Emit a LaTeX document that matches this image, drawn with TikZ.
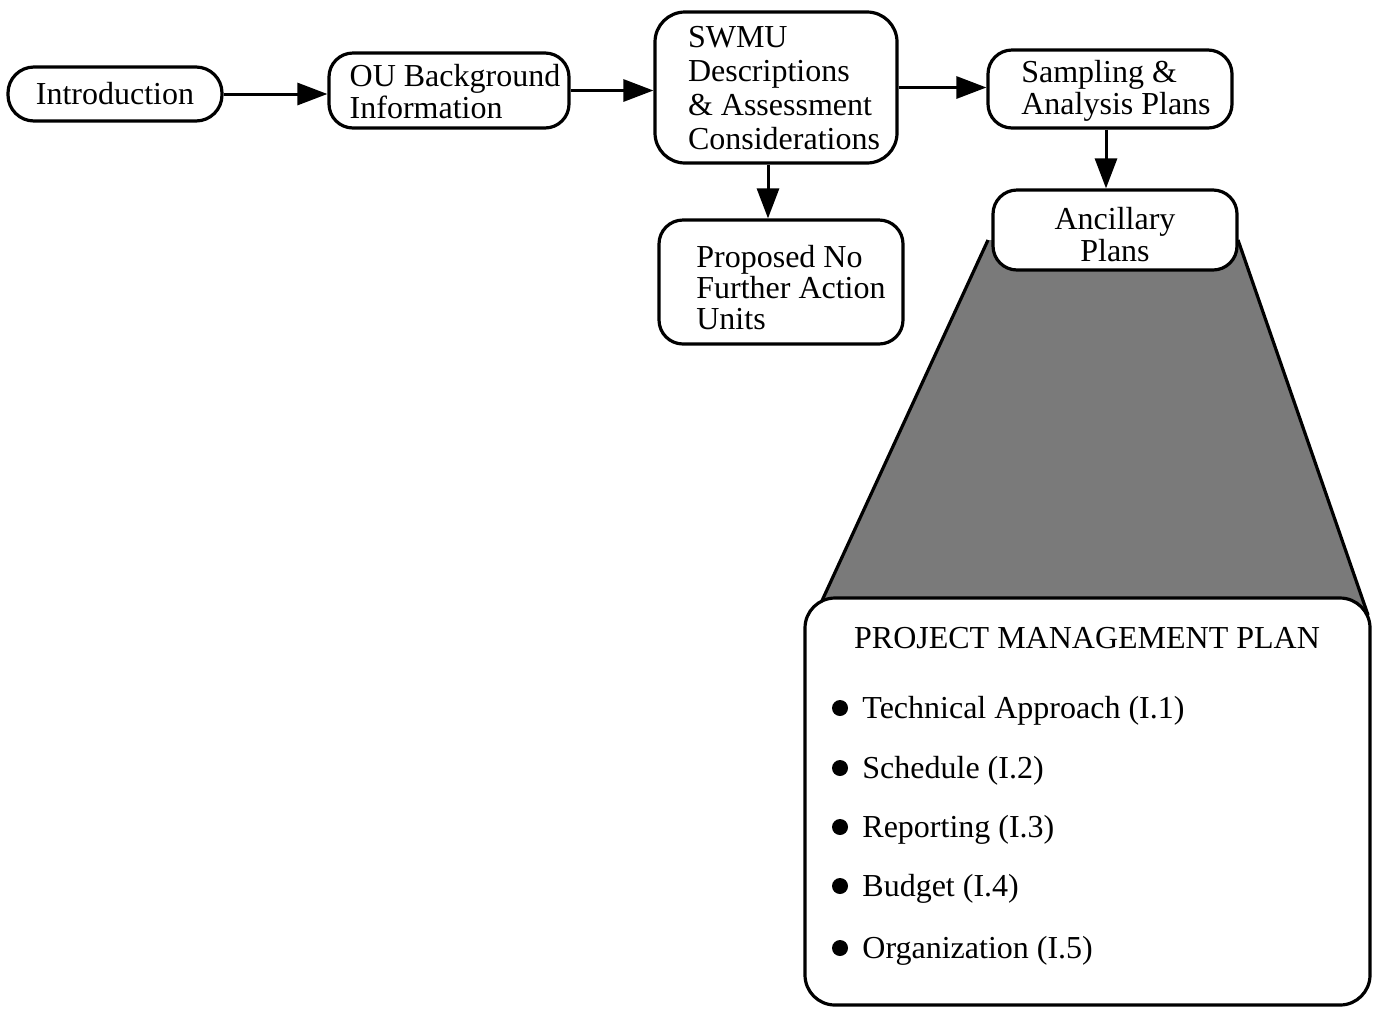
\documentclass[tikz,border=0pt]{standalone}
\usepackage{fontspec}
\setmainfont{Liberation Serif}
\usetikzlibrary{arrows.meta,calc}
% left-aligned block with extra room on its left, lowered by #2 inside its own extent
\newcommand{\padblock}[3]{\hspace*{#1}\raisebox{-#2}[\height][\depth]{\begin{tabular}{@{}l@{}}#3\end{tabular}}}
\begin{document}
\begin{tikzpicture}[x=0.5pt,y=-0.5pt,
  box/.style={draw, line width=1.6pt, rounded corners=12pt, fill=white,
    font=\fontsize{16}{16}\selectfont, inner sep=0pt},
  flow/.style={line width=1.5pt, -{Triangle[length=15pt,width=11pt]}},
  item/.style={anchor=base west, inner sep=0pt, font=\fontsize{16}{16}\selectfont},
  dot/.style={fill=black},
]
\useasboundingbox (0,0) rectangle (1380,1008);

% shaded funnel between the ancillary plans and the management plan
\coordinate (ftl) at (988,240);
\coordinate (ftr) at (1238,240);
\coordinate (fbr) at (1368,615);
\coordinate (fbl) at (820,605);
\fill[black!52] (ftl) -- (ftr) -- (fbr) -- (fbl) -- cycle;
\draw[line width=1.6pt] (ftl) -- (fbl) (ftr) -- (fbr);

% flow boxes
\node[box, minimum width=107pt, minimum height=27pt, rounded corners=13pt]
  (intro) at (115,94) {Introduction};
\node[box, minimum width=120pt, minimum height=37.5pt]
  (ou) at (449,90.5) {\padblock{6pt}{3pt}{OU Background\\Information}};
\node[box, minimum width=121pt, minimum height=75.5pt,
  font=\fontsize{16}{17}\selectfont, rounded corners=15pt]
  (swmu) at (776,87.5) {\padblock{8pt}{2.2pt}{SWMU\\Descriptions\\\& Assessment\\Considerations}};
\node[box, minimum width=122pt, minimum height=39pt]
  (samp) at (1110,89) {\padblock{6pt}{1.5pt}{Sampling \&\\Analysis Plans}};
\node[box, minimum width=122pt, minimum height=62pt,
  font=\fontsize{16}{15.5}\selectfont]
  (prop) at (781,282) {\padblock{10pt}{5pt}{Proposed No\\Further Action\\Units}};
\node[box, minimum width=122pt, minimum height=40pt]
  (anc) at (1115,230) {\raisebox{-4.5pt}[\height][\depth]{\begin{tabular}{@{}c@{}}Ancillary\\Plans\end{tabular}}};
\node[box, minimum width=282.5pt, minimum height=203.5pt, rounded corners=15pt]
  (pmp) at (1087.5,801.5) {};

% management plan contents
\node[anchor=base, inner sep=0pt, font=\fontsize{16}{16}\selectfont]
  (pmptitle) at (1087,648) {PROJECT MANAGEMENT PLAN};
\foreach \y/\txt/\nm in {708/Technical Approach (I.1)/i1, 768/Schedule (I.2)/i2,
    827/Reporting (I.3)/i3, 886/Budget (I.4)/i4, 948/Organization (I.5)/i5} {
  \fill[dot] (840,\y) circle[radius=4pt];
  \node[item] (\nm) at (862,\y+10) {\txt};
}

% connectors
\draw[flow] (intro.east) -- (intro.east -| ou.west);
\draw[flow] (ou.east) -- (ou.east -| swmu.west);
\draw[flow] (swmu.east) -- (swmu.east -| samp.west);
\draw[flow] ([xshift=-4pt]swmu.south) -- ([xshift=-4pt]swmu.south |- prop.north);
\draw[flow] ([xshift=-2pt]samp.south) -- ([xshift=-2pt]samp.south |- anc.north);
\end{tikzpicture}
\end{document}
